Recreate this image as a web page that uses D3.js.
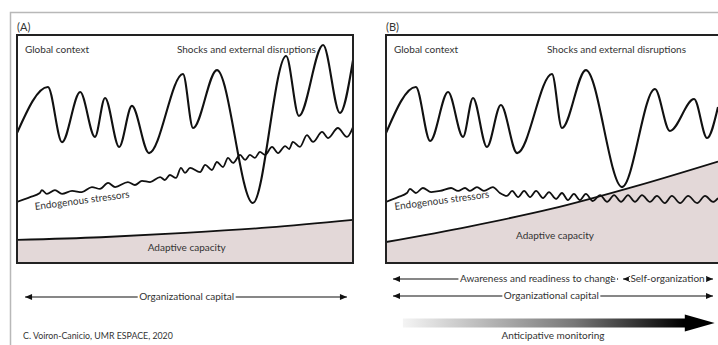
<!DOCTYPE html>
<html>
<head>
<meta charset="utf-8">
<script src="https://cdn.jsdelivr.net/npm/d3@7"></script>
<style>
  body { margin: 0; background: #fff; }
  text { font-family: Lato, "Open Sans", sans-serif; fill: #333; }
</style>
</head>
<body>
<svg id="chart"></svg>
<script>
// ---- Data (time 0-100, level 0-100 inside each panel) ----
const globalA = [[0,57],[9.2,77.2],[13.4,53],[18.8,75],[23.2,55.3],[26.2,72.4],[30.4,50.9],[34.2,68.9],
  [39.3,48.2],[49.4,82.9],[52.4,59.2],[59.5,84.6],[70.2,26.3],[80.1,90.8],[83.9,64.5],[91.1,95.6],[96.1,65.8],[100,89]];
const globalB = [[0,57],[9,77.2],[13.3,53.5],[18.7,75],[23.2,55.3],[26.2,72.4],[30.4,50.9],[34.6,69.3],
  [39.5,48.2],[50,82.9],[53,59.2],[60.2,84.6],[71.1,33.3],[81,76.3],[85.5,57.9],[92.8,71.9],[96.7,54.8],[100,68.4]];

const stressorsA = [[0,26.8],[3.9,28.9],[6.8,30.7],[7.4,32],[8.9,30.3],[11.3,32],[13.4,30.3],[16.4,31.6],[19.3,31.1],
  [22.3,33.3],[24.7,32.5],[27.1,35.1],[29.2,33.3],[33,35.5],[35.1,34.2],[37.2,36],[39.6,35.5],[42.6,37.7],[44,36.4],
  [45.5,38.6],[47.3,37.3],[48.8,41.7],[50,39.5],[51.5,41.7],[54.5,39.9],[56,43],[58,40.8],[59.5,44.3],[61.3,42.1],
  [62.8,46.1],[64.3,43.9],[66.4,47.4],[67.9,45.2],[69.3,47.4],[70.8,46.1],[72.3,48.7],[73.8,47.4],[75.9,50.9],
  [77.7,48.2],[79.8,51.3],[81,50],[82.1,53.1],[84.2,50.9],[86.3,56.1],[88.1,53.1],[90.8,57.5],[92.6,54.8],
  [95.5,59.2],[98.2,55.3],[100,59.6]];
const stressorsB = [[0,26.8],[3.6,28.9],[6.3,30.7],[7.2,32.5],[9,30.7],[11.1,32.9],[13.6,31.1],[16.3,31.6],[19.6,32.9],
  [21.7,31.6],[23.8,32.9],[25.3,31.6],[27.4,33.3],[29.5,31.6],[32.2,33.3],[34.3,30.7],[36.4,29.4],[38,31.6],[39.8,28.9],
  [41.6,31.6],[43.4,28.9],[45.2,31.6],[47.3,28.5],[49.1,31.1],[51.2,28.1],[53,30.7],[54.8,27.6],[56.6,30.3],[58.4,27.6],
  [60.2,30.3],[62.3,27.2],[64.5,29.8],[66.6,26.8],[68.7,29.8],[70.8,26.8],[72.9,29.8],[75,26.8],[77.1,29.8],[79.5,26.8],
  [81.6,29.4],[84,26.3],[86.1,29.4],[88.6,26.3],[91,29.4],[93.7,26.3],[96.1,29.4],[98.5,26.8],[100,28.5]];

const adaptiveA = [[0,10.1],[25,11.3],[50,13.2],[75,15.6],[100,18.9]];
const adaptiveB = [[0,9.2],[25,16],[50,23.8],[75,33.6],[100,44.5]];

// ---- Layout ----
const width = 718, height = 345;
const boxTop = 35, boxBottom = 263;
const fillColor = "#e3d8d8";
const fs = 10;

const svg = d3.select("#chart").attr("width", width).attr("height", height);

// light outer frame
svg.append("path")
  .attr("d", `M10.5,${height} V12.5 H${width}`)
  .attr("fill", "none").attr("stroke", "#b8b8b8").attr("stroke-width", 1.5);

const panels = [
  { id: "A", left: 17, right: 353, boxRight: 353, global: globalA, stress: stressorsA, adapt: adaptiveA,
    shocksX: 47.6, stressX: 5.4, adaptLabel: [50.5, 251] },
  { id: "B", left: 386, right: 718, boxRight: 721, global: globalB, stress: stressorsB, adapt: adaptiveB,
    shocksX: 48.5, stressX: 2.7, adaptLabel: [50.9, 239] }
];

panels.forEach(p => {
  const x = d3.scaleLinear().domain([0, 100]).range([p.left, p.right]);
  const y = d3.scaleLinear().domain([0, 100]).range([boxBottom, boxTop]);
  p.x = x;

  svg.append("clipPath").attr("id", "clip" + p.id)
    .append("rect").attr("x", p.left).attr("y", boxTop).attr("width", p.boxRight - p.left).attr("height", boxBottom - boxTop);

  const g = svg.append("g").attr("clip-path", `url(#clip${p.id})`);

  // adaptive capacity area
  g.append("path").datum(p.adapt)
    .attr("d", d3.area().x(d => x(d[0])).y0(y(0)).y1(d => y(d[1])).curve(d3.curveMonotoneX))
    .attr("fill", fillColor);

  const line = d3.line().x(d => x(d[0])).y(d => y(d[1])).curve(d3.curveMonotoneX);

  g.append("path").datum(p.adapt).attr("d", line)
    .attr("fill", "none").attr("stroke", "#111").attr("stroke-width", 1.8);

  g.append("path").datum(p.stress).attr("d", line)
    .attr("fill", "none").attr("stroke", "#111").attr("stroke-width", 1.8).attr("stroke-linejoin", "round");

  g.append("path").datum(p.global).attr("d", line)
    .attr("fill", "none").attr("stroke", "#111").attr("stroke-width", 2.1).attr("stroke-linejoin", "round");

  // box
  svg.append("rect")
    .attr("x", p.left).attr("y", boxTop)
    .attr("width", p.boxRight - p.left).attr("height", boxBottom - boxTop)
    .attr("fill", "none").attr("stroke", "#222").attr("stroke-width", 2);

  // labels
  svg.append("text").attr("x", p.left).attr("y", 31).attr("font-size", 11).text(`(${p.id})`);
  svg.append("text").attr("x", p.left + 8).attr("y", 53).attr("font-size", fs).text("Global context");
  svg.append("text").attr("x", x(p.shocksX)).attr("y", 53).attr("font-size", fs).text("Shocks and external disruptions");
  svg.append("text")
    .attr("transform", `translate(${x(p.stressX)},210) rotate(-7.5)`)
    .attr("font-size", fs).text("Endogenous stressors");
  svg.append("text").attr("x", x(p.adaptLabel[0])).attr("y", p.adaptLabel[1])
    .attr("text-anchor", "middle").attr("font-size", fs).text("Adaptive capacity");
});

// ---- Double-headed arrows with a label ----
function arrowHead(xTip, yy, dir) {
  svg.append("path")
    .attr("d", `M${xTip},${yy} L${xTip - dir * 7},${yy - 3} L${xTip - dir * 7},${yy + 3} Z`)
    .attr("fill", "#111");
}
function labelledArrow(x1, x2, yy, label, cx, heads) {
  svg.append("line").attr("x1", x1).attr("x2", x2).attr("y1", yy).attr("y2", yy)
    .attr("stroke", "#111").attr("stroke-width", 1.2);
  if (heads[0]) arrowHead(x1, yy, -1);
  if (heads[1]) arrowHead(x2, yy, 1);
  const t = svg.append("text").attr("x", cx).attr("y", yy + 3.4)
    .attr("text-anchor", "middle").attr("font-size", fs).text(label);
  const bb = t.node().getBBox();
  svg.insert("rect", () => t.node())
    .attr("x", bb.x - 1.5).attr("y", yy - 2).attr("width", bb.width + 3).attr("height", 4).attr("fill", "#fff");
}

const xA = panels[0].x, xB = panels[1].x;
labelledArrow(xA(2.4), xA(98.2), 297, "Organizational capital", xA(50.5), [1, 1]);
labelledArrow(xB(2.1), xB(69.9), 279, "Awareness and readiness to change", xB(45.7), [1, 1]);
labelledArrow(xB(71.4), xB(98.5), 279, "Self-organization", xB(84.8), [1, 1]);
labelledArrow(xB(2.1), xB(98.5), 296, "Organizational capital", xB(49.8), [1, 1]);

// ---- Anticipative monitoring gradient arrow ----
const grad = svg.append("defs").append("linearGradient").attr("id", "monGrad");
grad.append("stop").attr("offset", "0%").attr("stop-color", "#f4f4f4");
grad.append("stop").attr("offset", "55%").attr("stop-color", "#777");
grad.append("stop").attr("offset", "90%").attr("stop-color", "#000");
const gx1 = xB(5.1), gx2 = xB(99), gHead = xB(90), gy = 323;
svg.append("path")
  .attr("d", `M${gx1},${gy - 4.5} H${gHead} V${gy - 8.5} L${gx2},${gy} L${gHead},${gy + 8.5} V${gy + 4.5} H${gx1} Z`)
  .attr("fill", "url(#monGrad)");
svg.append("text").attr("x", xB(50.3)).attr("y", 339).attr("text-anchor", "middle")
  .attr("font-size", fs).text("Anticipative monitoring");

svg.append("text").attr("x", 23).attr("y", 339).attr("font-size", 8.8).text("C. Voiron-Canicio, UMR ESPACE, 2020");
</script>
</body>
</html>
